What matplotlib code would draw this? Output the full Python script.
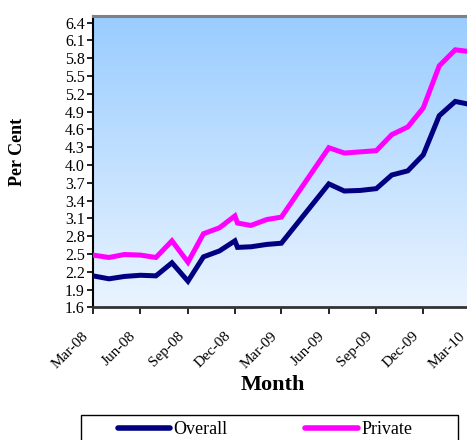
import matplotlib
matplotlib.use("Agg")
import matplotlib.pyplot as plt
import matplotlib.dates as mdates
import matplotlib.transforms as mtransforms
import numpy as np
import pandas as pd
from matplotlib.colors import LinearSegmentedColormap
from matplotlib.patches import Rectangle
from matplotlib.ticker import FixedLocator, FormatStrFormatter

plt.rcParams["font.family"] = ["Liberation Serif", "DejaVu Serif"]

# monthly readings; December 2008 was reported twice
dates = pd.to_datetime([
    "2008-03-01", "2008-04-01", "2008-05-01", "2008-06-01", "2008-07-01",
    "2008-08-01", "2008-09-01", "2008-10-01", "2008-11-01", "2008-12-01",
    "2008-12-06", "2009-01-01", "2009-02-01", "2009-03-01", "2009-06-01",
    "2009-07-01", "2009-08-01", "2009-09-01", "2009-10-01", "2009-11-01",
    "2009-12-01", "2010-01-01", "2010-02-01", "2010-03-01",
])
overall = [2.13, 2.08, 2.12, 2.14, 2.13, 2.35, 2.04, 2.45, 2.55, 2.72,
           2.61, 2.62, 2.66, 2.68, 3.68, 3.56, 3.57, 3.60, 3.83, 3.90,
           4.17, 4.83, 5.07, 5.02]
private = [2.48, 2.44, 2.49, 2.48, 2.44, 2.72, 2.36, 2.84, 2.94, 3.14,
           3.02, 2.98, 3.08, 3.12, 4.29, 4.20, 4.22, 4.24, 4.51, 4.64,
           4.96, 5.67, 5.94, 5.91]
y_ticks = [1.6, 1.9, 2.2, 2.5, 2.8, 3.1, 3.4, 3.7, 4.0, 4.3, 4.6, 4.9,
           5.2, 5.5, 5.8, 6.1, 6.4]

W, H = 467, 440
fig = plt.figure(figsize=(W / 100, H / 100), dpi=100)
ax = fig.add_axes([93 / W, 1 - 307.3 / H, (469.7 - 93) / W, (307.3 - 16) / H])

# sky gradient behind the plot area
grad = LinearSegmentedColormap.from_list("sky", ["#EAF4FF", "#99CCFF"])
ax.imshow(np.linspace(0, 1, 256).reshape(-1, 1), cmap=grad, origin="lower",
          aspect="auto", extent=[0, 1, 0, 1], transform=ax.transAxes, zorder=0)

ax.plot(dates, overall, color="#000080", lw=3.6, label="Overall", zorder=3,
        solid_joinstyle="miter")
ax.plot(dates, private, color="#FF00FF", lw=3.6, label="Private", zorder=3,
        solid_joinstyle="miter")

ax.set_xlim(pd.Timestamp("2008-03-01"), pd.Timestamp("2010-03-01"))
ax.set_ylim(1.6, 6.51)
ax.yaxis.set_major_locator(FixedLocator(y_ticks))
ax.yaxis.set_major_formatter(FormatStrFormatter("%.1f"))
ax.xaxis.set_major_locator(mdates.MonthLocator(bymonth=[3, 6, 9, 12]))
ax.xaxis.set_major_formatter(mdates.DateFormatter("%b-%y"))

ax.tick_params(axis="y", direction="out", length=4, width=1.2, pad=2,
               labelsize=11.5)
ax.tick_params(axis="x", direction="out", length=5, width=1.2, pad=11,
               labelsize=11)
fig.canvas.draw()
shift = mtransforms.ScaledTranslation(-0.11, 0, fig.dpi_scale_trans)
for lbl in ax.get_xticklabels():
    lbl.set_rotation(45)
    lbl.set_ha("right")
    lbl.set_va("top")
    lbl.set_rotation_mode("anchor")
    lbl.set_transform(lbl.get_transform() + shift)

ax.spines["top"].set_color("#808080")
ax.spines["top"].set_linewidth(2.2)
ax.spines["left"].set_color("black")
ax.spines["left"].set_linewidth(1.5)
ax.spines["bottom"].set_color("#333333")
ax.spines["bottom"].set_linewidth(2)
ax.spines["right"].set_visible(False)

fig.text(18 / W, 1 - 152 / H, "Per Cent", rotation=90, fontsize=13,
         fontweight="bold", ha="center", va="center")
fig.text(272.5 / W, 1 - 385 / H, "Month", fontsize=16, fontweight="bold",
         ha="center", va="center")

# legend box runs past the bottom edge
fig.patches.append(Rectangle((80.7 / W, -0.05), (457.7 - 80.7) / W,
                             0.05 + 1 - 415 / H, transform=fig.transFigure,
                             facecolor="white", edgecolor="black", lw=1.0,
                             zorder=1))
leg = fig.legend(loc="upper center", bbox_to_anchor=(265 / W, 1 - 416 / H),
                 ncol=2, fontsize=13, frameon=False, handlelength=2.9,
                 handletextpad=0.2, columnspacing=4.3, borderpad=0.3,
                 borderaxespad=0)
leg.set_zorder(2)
for line in leg.get_lines():
    line.set_linewidth(4)
    line.set_solid_capstyle("round")

fig.savefig("out.png", dpi=100)
